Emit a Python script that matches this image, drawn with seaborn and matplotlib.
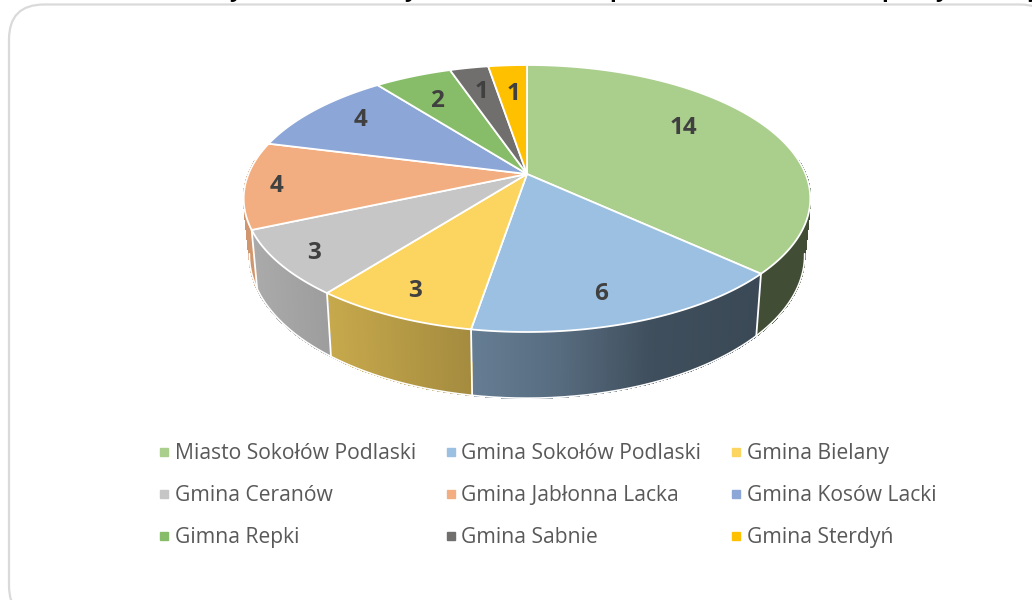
import numpy as np
import seaborn as sns
import matplotlib.pyplot as plt
from matplotlib.collections import PolyCollection
from matplotlib.lines import Line2D
from matplotlib.patches import FancyBboxPatch

# dane
gminy = ["Miasto Sokołów Podlaski", "Gmina Sokołów Podlaski", "Gmina Bielany",
         "Gmina Ceranów", "Gmina Jabłonna Lacka", "Gmina Kosów Lacki",
         "Gimna Repki", "Gmina Sabnie", "Gmina Sterdyń"]
wartosci = [14, 6, 3, 3, 4, 4, 2, 1, 1]
kolory = ["#AACE8C", "#9BC0E2", "#FBD560", "#C6C6C6", "#F2AE80",
          "#8BA6D7", "#87BD68", "#716E6E", "#FFC000"]

# gdzie stoja etykiety wartosci (px)
etykiety_x = [683, 601, 415, 314, 277, 360, 437, 482, 514]
etykiety_y = [125, 291, 288, 250, 183, 117, 98, 89, 91]

# resztki uciętego tytulu na gorze obrazka
tytul_znaki = ["y", "y", "p", "p", "y", "y"]
tytul_x = [235, 410, 616, 888, 941, 1033]

sns.set_theme(style="white")
plt.rcParams['font.family'] = ['Open Sans', 'DejaVu Sans']
paleta = sns.color_palette(kolory)

# perspektywa kola: srodek (527, 174)
CX, CY = 527, 174
A, B, C = 0.1835, 129, 278.5


def rzut(theta):
    x, y = np.sin(theta), np.cos(theta)
    m = 1 + A * y
    return CX + C * x / m, CY - B * y / m


def dol(px, py):
    # dolna krawedz walca
    return CX + 0.98 * (px - CX), py + 62 + 0.071 * (py - 273)


def cien(px):
    return np.interp(px, [250, 330, 472, 560, 650, 760, 810],
                     [0.86, 0.79, 0.65, 0.56, 0.41, 0.38, 0.38])


fig, ax = plt.subplots(figsize=(10.32, 6), dpi=100)
ax.set_position([0, 0, 1, 1])
ax.set_xlim(0, 1032)
ax.set_ylim(600, 0)
ax.axis('off')

ax.add_patch(FancyBboxPatch((9, 4.5), 1046, 616, boxstyle="round,pad=0,rounding_size=35",
                            fc='white', ec='#DADADA', lw=1.6, zorder=0))

katy = np.cumsum([0] + wartosci) / sum(wartosci) * 2 * np.pi
przod = np.radians([84, 276])  # tyl walca i tak schowany pod gora

# bok walca
for i in range(len(wartosci)):
    t = np.linspace(katy[i], katy[i + 1], max(int(np.degrees(katy[i + 1] - katy[i])) * 4, 4))
    px, py = rzut(t)
    bx, by = dol(px, py)
    quady, barwy = [], []
    for k in range(len(t) - 1):
        if not przod[0] < t[k] < przod[1]:
            continue
        quady.append([(px[k], py[k]), (px[k + 1], py[k + 1]), (bx[k + 1], by[k + 1]), (bx[k], by[k])])
        f = cien((px[k] + px[k + 1]) / 2)
        barwy.append(tuple(c * f for c in paleta[i]))
    ax.add_collection(PolyCollection(quady, facecolors=barwy, edgecolors=barwy, linewidths=0.6,
                                     antialiaseds=False, zorder=1))

# wygladzenie dolnej krawedzi, tylko widoczny kawalek
tt = np.radians(np.linspace(100, 260, 400))
ax.plot(*dol(*rzut(tt)), color='white', lw=1.2, zorder=1.5)

for kat in katy[:-1]:
    if przod[0] < kat < przod[1]:
        px, py = rzut(kat)
        bx, by = dol(px, py)
        ax.plot([px, bx], [py, by], color='white', lw=1.3, zorder=2)

# gora walca
for i in range(len(wartosci)):
    t = np.linspace(katy[i], katy[i + 1], 200)
    px, py = rzut(t)
    ax.fill(np.r_[CX, px], np.r_[CY, py], facecolor=paleta[i], edgecolor='white', lw=1.3,
            joinstyle='round', zorder=3)

for x, y, w in zip(etykiety_x, etykiety_y, wartosci):
    ax.text(x, y, str(w), ha='center', va='center_baseline', fontsize=17.5, fontweight='bold',
            color='#404040', zorder=4)

for x, z in zip(tytul_x, tytul_znaki):
    ax.text(x, -2.5, z, ha='center', va='baseline', fontsize=16, fontweight='bold', color='black')

# legenda w 3 kolumnach, matplotlib wypelnia kolumnami wiec trzeba przestawic
uchwyty = [Line2D([], [], ls='', marker='s', ms=5.8, color=k, label=g)
           for k, g in zip(paleta, gminy)]
kolejnosc = [0, 3, 6, 1, 4, 7, 2, 5, 8]
ax.legend(handles=[uchwyty[i] for i in kolejnosc], ncol=3, frameon=False, fontsize=15.2,
          labelcolor='#595959', loc='upper left', bbox_to_anchor=(149, 434.5),
          bbox_transform=ax.transData, handlelength=0.62, handletextpad=0.19,
          columnspacing=1.35, labelspacing=1.0, borderpad=0.4, borderaxespad=0)

fig.savefig("out.png", dpi=100)
